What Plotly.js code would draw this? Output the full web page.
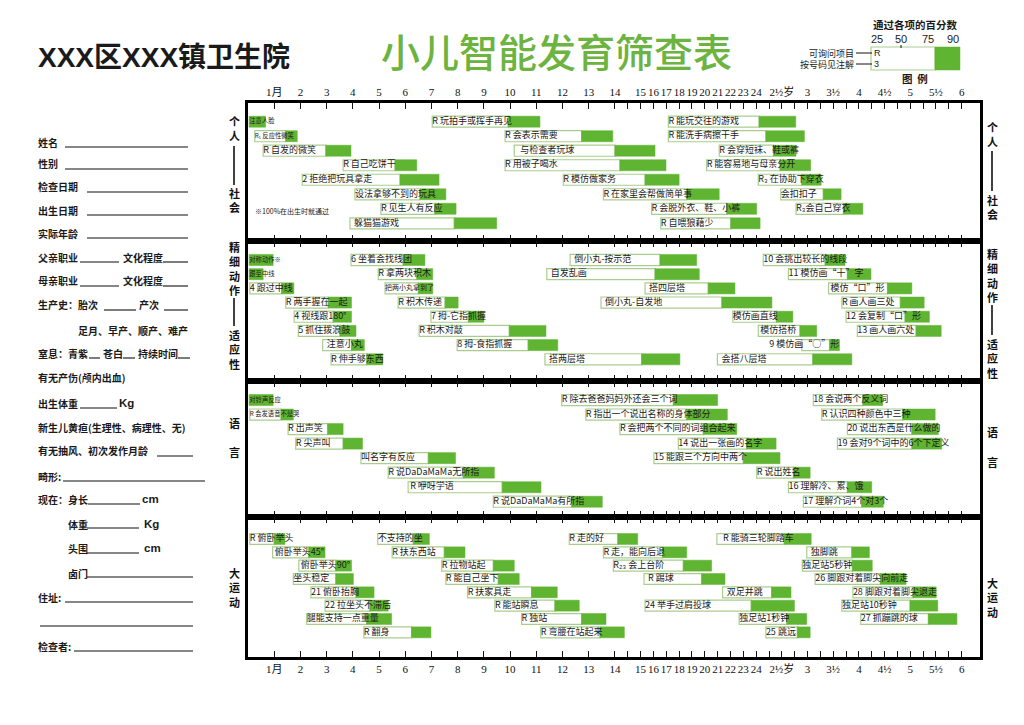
<!DOCTYPE html>
<html><head><meta charset="utf-8">
<script src="https://cdn.plot.ly/plotly-3.0.1.min.js"></script>
<style>html,body{margin:0;padding:0;background:#fff;} #chart{width:1024px;height:725px;}</style>
</head><body><div id="chart"></div>
<script>
// ---------- axis ticks (chart units) ----------
const TICK_VALS = [1,2,3,4,5,6,7,8,9,10,11,12,13,14,14.98,15.47,15.96,16.45,16.94,17.43,17.92,18.41,18.9,19.39,20.37,21.35,22.33,23.31,24.29,25.27,26.25,27.23];
const TICK_TEXT = ['1月','2','3','4','5','6','7','8','9','10','11','12','13','14','15','16','17','18','19','20','21','22','23','24','2½岁','3','3½','4','4½','5','5½','6'];
const MINOR_TICK_VALS = [14.49,19.88,20.86,21.84,22.82,23.8,24.78,25.76,26.74];

// ---------- 个人-社会 ----------
const S1_ROWS = [1,1,1,2,2,2,3,3,3,4,4,4,5,5,5,6,6,6,7,7,7,8,8];
const S1_LABELS = ['注意人脸','R 玩拍手或挥手再见','R 能玩交往的游戏',
 'R₁ 反应性微笑','R 会表示需要','R 能洗手病擦干手',
 'R 自发的微笑','\u00a0\u00a0\u00a0与检查者玩球','R 会穿短袜、鞋或裤',
 'R 自己吃饼干','R 用被子喝水','R 能容易地与母亲分开',
 '2 拒绝把玩具拿走','R 模仿做家务','R₃ 在协助下穿衣',
 '设法拿够不到的玩具','R 在家里会帮做简单事','会扣扣子',
 'R 见生人有反应','R 会脱外衣、鞋、小裤','R₃会自己穿衣',
 '\u00a0\u00a0躲猫猫游戏','R 自喂狼藉少'];
const S1_P25 = [0.05,7.03,16.04, 0.26,9.81,16.04, 0.58,10.16,17.98, 3.63,9.81,17.50, 2.07,12.03,19.47, 4.08,13.56,20.33, 5.07,15.40,20.91, 3.89,15.75];
const S1_P75 = [0.05,9.93,19.50, 1.44,12.73,19.76, 2.97,14.00,20.05, 5.61,14.19,20.30, 5.80,15.15,21.13, 6.56,16.74,21.95, 7.13,18.27,22.72, 7.87,18.42];
const S1_P90 = [0.67,11.14,20.90, 1.88,13.92,21.23, 3.93,15.53,20.91, 6.44,15.95,21.47, 7.29,16.45,21.87, 7.55,17.98,22.63, 7.94,19.41,23.46, 9.49,19.54];

// ---------- 精细动作-适应性 ----------
const S2_ROWS = [1,1,1,1,2,2,2,2,3,3,3,3,4,4,4,4,5,5,5,5,6,6,6,6,7,7,7,8,8,8];
const S2_LABELS = ['对称动作※','6 坐着会找线团','\u00a0\u00a0倒小丸-按示范','10 会挑出较长的线段',
 '跟至中线','R 拿两块积木','\u00a0\u00a0自发乱画','11 模仿画“十”字',
 '4 跟过中线','把两小丸拿到了','\u00a0\u00a0搭四层塔','\u00a0模仿“口”形',
 'R 两手握在一起','R 积木传递','\u00a0\u00a0倒小丸-自发地','R 画人画三处',
 '4 视线跟180°','7 拇-它指抓握','模仿画直线','12 会复制“口”形',
 '5 抓住拨浪鼓','R 积木对敲','\u00a0模仿搭桥','13 画人画六处',
 '\u00a0\u00a0注意小丸','8 拇-食指抓握','9 模仿画“○”形',
 'R 伸手够东西','\u00a0\u00a0搭两层塔','\u00a0\u00a0会搭八层塔'];
const S2_P25 = [0.05,3.93,12.29,19.66, 0.05,4.97,11.40,20.62, 0.07,5.23,15.15,22.15, 1.44,5.73,13.47,22.66, 1.76,6.98,18.50,22.82, 1.92,6.53,19.47,23.25, 2.85,7.98,21.13, 3.17,11.33,17.91];
const S2_P75 = [0.05,5.92,15.72,22.02, 0.05,6.44,15.53,22.87, 1.28,6.50,17.56,24.40, 3.06,7.52,18.08,24.89, 3.25,8.41,20.16,25.07, 3.51,9.97,21.06,25.49, 3.95,10.69,22.19, 4.53,15.02,21.55];
const S2_P90 = [0.96,6.75,17.12,22.78, 0.58,7.05,17.22,23.77, 1.75,7.05,18.58,25.33, 3.95,8.02,19.99,25.80, 3.95,9.00,20.79,26.00, 4.12,11.37,21.70,26.45, 4.44,11.82,22.57, 5.14,16.48,23.04];
const S2_TEXT_START = {26: 19.89}; // "9 模仿画“○”形" text begins left of its bar

// ---------- 语言 ----------
const S3_ROWS = [1,1,1,2,2,2,3,3,3,4,4,4,5,5,6,6,7,7,8,8];
const S3_LABELS = ['对铃声反应','R 除去爸爸妈妈外还会三个词','18 会说两个反义词',
 'R 会发语音不是哭','R 指出一个说出名称的身体部分','R 认识四种颜色中三种',
 'R 出声笑','R 会把两个不同的词组合起来','20 说出东西是什么做的',
 'R 尖声叫','14 说出一张画的名字','19 会对9个词中的6个下定义',
 '叫名字有反应','15 能跟三个方向中两个',
 'R 说DaDaMaMa无所指','R 说出姓名',
 '\u00a0R 咿呀学语','16 理解冷、累、饿',
 'R 说DaDaMaMa有所指','17 理解介词4个对3个'];
const S3_P25 = [0.05,11.97,21.57, 0.07,12.89,21.89, 1.53,14.19,22.87, 1.82,16.42,22.49, 4.31,15.49, 5.35,19.41, 6.11,20.62, 9.36,21.19];
const S3_P75 = [0.05,16.23,23.46, 1.26,16.74,24.98, 3.04,17.37,25.33, 3.63,19.03,25.33, 6.88,18.90, 8.21,20.81, 9.70,22.87, 12.35,23.42];
const S3_P90 = [0.96,17.92,24.22, 1.73,18.29,26.22, 3.63,18.65,26.34, 4.37,20.15,26.47, 7.92,20.30, 9.40,21.45, 11.18,23.80, 13.52,24.24];

// ---------- 大运动 ----------
const S4_ROWS = [1,1,1,1,2,2,2,2,3,3,3,3,4,4,4,4,5,5,5,5,6,6,6,6,7,7,7,7,8,8,8];
const S4_LABELS = ['R 俯卧举头','不支持的坐','R 走的好','\u00a0\u00a0\u00a0R 能骑三轮脚踏车',
 '\u00a0俯卧举头45°','R 扶东西站','R 走，能向后退','\u00a0\u00a0独脚跳',
 '\u00a0俯卧举头90°','R 拉物站起','R₂₃ 会上台阶','独足站5秒钟',
 '坐头稳定','R 能自己坐下','\u00a0\u00a0R 踢球','26 脚跟对着脚尖向前走',
 '21 俯卧抬胸','R 扶家具走','\u00a0\u00a0双足并跳','28 脚跟对着脚尖退走',
 '22 拉坐头不滞后','R 能站瞬息','24 举手过肩投球','独足站10秒钟',
 '腿能支持一点重量','R 独站','独足站1秒钟','27 抓蹦跳的球',
 'R 翻身','R 弯腰在站起来','25 跳远'];
const S4_P25 = [0.07,4.95,12.26,17.89, 0.94,5.50,13.56,21.32, 1.94,7.39,13.94,21.15, 1.73,7.55,15.11,21.64, 2.40,8.38,18.11,23.08, 2.94,9.42,15.15,22.66, 2.24,10.44,18.74,23.38, 4.42,11.17,19.76];
const S4_P75 = [1.00,6.31,14.11,20.46, 2.32,7.49,15.82,23.04, 3.35,9.36,16.61,23.06, 3.35,9.55,17.31,24.13, 4.12,10.82,19.98,25.37, 4.65,11.71,19.20,25.26, 4.53,12.73,20.56,25.96, 6.24,13.43,20.96];
const S4_P90 = [1.41,6.92,14.87,21.49, 2.94,8.28,16.74,23.71, 3.95,10.16,17.69,23.82, 4.02,10.35,18.20,25.11, 4.81,11.80,20.72,26.26, 5.35,12.64,20.85,26.32, 5.48,13.66,21.32,27.05, 6.98,14.36,21.45];

const SMALL_LABELS = ['注意人脸','R₁ 反应性微笑','对称动作※','跟至中线','对铃声反应','R 会发语音不是哭'];
const MID_LABELS = ['把两小丸拿到了'];

// ---------- styling ----------
const GREEN = '#5fb431';
const EDGE = '#aacd8f';
const CJK = 'Noto Sans CJK SC, sans-serif';
const X_RANGE = [0, 27.93];
const DOM_X = [248/1024, 980/1024];
const SECTIONS = [
  {rows:S1_ROWS, labels:S1_LABELS, p25:S1_P25, p75:S1_P75, p90:S1_P90, ts:{}, dom:[1-241/725, 1-103/725], yr:[9.22,-0.289], w:0.76},
  {rows:S2_ROWS, labels:S2_LABELS, p25:S2_P25, p75:S2_P75, p90:S2_P90, ts:S2_TEXT_START, dom:[1-381/725, 1-241/725], yr:[9.53,-0.339], w:0.78},
  {rows:S3_ROWS, labels:S3_LABELS, p25:S3_P25, p75:S3_P75, p90:S3_P90, ts:{}, dom:[1-517/725, 1-381/725], yr:[9.05,-0.308], w:0.76},
  {rows:S4_ROWS, labels:S4_LABELS, p25:S4_P25, p75:S4_P75, p90:S4_P90, ts:{}, dom:[1-657/725, 1-517/725], yr:[9.85,-0.65], w:0.82}
];

const traces = [];
const layout = {
  width:1024, height:725, margin:{l:0,r:0,t:0,b:0},
  paper_bgcolor:'#fff', plot_bgcolor:'#fff', showlegend:false, barmode:'overlay',
  font:{family:CJK, color:'#111'}
};

SECTIONS.forEach((s, k) => {
  const n = k+1;
  const xa = n===1 ? 'x' : 'x'+n, ya = n===1 ? 'y' : 'y'+n;
  traces.push({type:'bar', orientation:'h', xaxis:xa, yaxis:ya, y:s.rows, base:s.p25,
    x:s.p75.map((v,i)=>v-s.p25[i]), width:s.w,
    marker:{color:'#ffffff', line:{color:EDGE, width:1.2}}, hoverinfo:'skip'});
  traces.push({type:'bar', orientation:'h', xaxis:xa, yaxis:ya, y:s.rows, base:s.p75,
    x:s.p90.map((v,i)=>v-s.p75[i]), width:s.w,
    marker:{color:GREEN, line:{color:GREEN, width:0.5}}, hoverinfo:'skip'});
  traces.push({type:'scatter', mode:'text', xaxis:xa, yaxis:ya, y:s.rows,
    x:s.p25.map((v,i)=> (i in s.ts) ? s.ts[i] : v),
    text:s.labels, textposition:'middle right', cliponaxis:false,
    textfont:{family:CJK, color:'#1a1a1a',
      size:s.labels.map(t => SMALL_LABELS.includes(t) ? 6.3 : (MID_LABELS.includes(t) ? 7 : 9))},
    hoverinfo:'skip'});
  const xaxis = {domain:DOM_X, range:X_RANGE, anchor:ya, tickmode:'array', tickvals:TICK_VALS, ticktext:TICK_TEXT,
    ticks:'inside', ticklen:6, tickwidth:1, tickcolor:'#111', showline:true, linecolor:'#000', linewidth:3,
    minor:{tickmode:'array', tickvals:MINOR_TICK_VALS, ticks:'inside', ticklen:6, tickwidth:1, tickcolor:'#111', showgrid:false},
    mirror:'ticks', showgrid:false, zeroline:false, fixedrange:true, tickangle:0,
    showticklabels:(n===1 || n===4), side:(n===1?'top':'bottom'),
    tickfont:{family:'Liberation Serif, Noto Sans CJK SC, serif', size:11, color:'#111'}};
  if (n>1) xaxis.matches = 'x';
  layout[n===1?'xaxis':'xaxis'+n] = xaxis;
  layout[n===1?'yaxis':'yaxis'+n] = {domain:s.dom, range:s.yr, anchor:xa, showline:true, linecolor:'#000', linewidth:3,
    mirror:true, ticks:'', showticklabels:false, showgrid:false, zeroline:false, fixedrange:true};
});

// ---------- annotations & shapes (page furniture) ----------
const P = x => x/1024, Q = y => 1 - y/725;
const ann = [], shapes = [];
function txt(t, x, y, o) {
  o = o || {};
  const font = Object.assign({family:CJK, size:10, color:'#1a1a1a', weight:700}, o.font || {});
  ann.push({text:t, x:P(x), y:Q(y), xref:'paper', yref:'paper', showarrow:false,
    xanchor:o.xanchor || 'left', yanchor:'middle', font:font, borderpad:0});
}
function hl(x1, x2, y, w) {
  shapes.push({type:'line', xref:'paper', yref:'paper', x0:P(x1), x1:P(x2), y0:Q(y), y1:Q(y), line:{color:'#111', width:w||1.1}});
}
function vl(x, y1, y2, w) {
  shapes.push({type:'line', xref:'paper', yref:'paper', x0:P(x), x1:P(x), y0:Q(y1), y1:Q(y2), line:{color:'#111', width:w||1.6}});
}

// titles
txt('XXX区XXX镇卫生院', 37, 58, {font:{family:'Liberation Sans, Noto Sans CJK SC, sans-serif', size:28, color:'#1a1a1a', weight:700}});
txt('小儿智能发育筛查表', 556, 50, {xanchor:'center', font:{size:39, color:'#6cb33f', weight:500}});

// patient form
const FORM = [
  ['姓名',37,142],['性别',37,164],['检查日期',37,187],['出生日期',37,211],['实际年龄',37,233],
  ['父亲职业',37,257],['文化程度',122,257],['母亲职业',37,281],['文化程度',122,281],
  ['生产史：胎次',37,305],['产次',138,305],['足月、早产、顺产、难产',77,330],
  ['窒息：青紫',37,353],['苍白',102,353],['持续时间',137,353],
  ['有无产伤(颅内出血)',37,377],['出生体重',37,403],['新生儿黄疸(生理性、病理性、无)',37,427],
  ['有无抽风、初次发作月龄',37,451],['畸形:',37,476],['现在：身长',37,499],
  ['体重',67,524],['头围',67,548],['卤门',67,573],['住址:',37,597],['检查者:',37,646]
];
FORM.forEach(f => txt(f[0], f[1], f[2]));
txt('Kg',118,403,{font:{family:'Liberation Sans, sans-serif', size:11.5}});
txt('cm',141,499,{font:{family:'Liberation Sans, sans-serif', size:11.5}});
txt('Kg',143,524,{font:{family:'Liberation Sans, sans-serif', size:11.5}});
txt('cm',143,548,{font:{family:'Liberation Sans, sans-serif', size:11.5}});
const FORM_LINES = [
  [65,188,147],[65,188,169],[87,188,192],[87,188,215],[87,188,238],
  [80,119,262],[163,188,262],[80,119,286],[163,188,286],
  [104,136,310],[164,188,310],[89,100,358],[123,135,358],[178,190,358],
  [80,117,408],[157,193,456],[63,205,481],[88,140,504],[87,139,528],[87,139,553],
  [87,193,577],[65,193,602],[40,193,626],[74,193,651]
];
FORM_LINES.forEach(l => hl(l[0], l[1], l[2]));

// section captions (left & right), stacked vertically
function stack(chars, yc, x) {
  txt(chars.join('<br>'), x, yc, {xanchor:'center', font:{size:11, color:'#111', weight:700}});
}
stack(['个','人'], 128, 234); stack(['社','会'], 200, 234); vl(234,146,185);
stack(['精','细','动','作'], 268, 234); stack(['适','应','性'], 349, 234); vl(234,298,326);
stack(['语'], 423, 234); stack(['言'], 452, 234);
stack(['大','运','动'], 587, 234);
stack(['个','人'], 134, 992); stack(['社','会'], 207, 992); vl(992,151,191);
stack(['精','细','动','作'], 275, 992); stack(['适','应','性'], 358, 992); vl(992,305,335);
stack(['语'], 432, 992); stack(['言'], 462, 992);
stack(['大','运','动'], 597, 992);

txt('※100%在出生时就通过', 254, 211, {font:{size:7, weight:400}});

// legend (top right)
txt('通过各项的百分数', 915, 24, {xanchor:'center', font:{size:10.5, weight:700}});
txt('25', 877, 39, {xanchor:'center', font:{family:'Liberation Sans, sans-serif', size:11, weight:400}});
txt('50', 901, 39, {xanchor:'center', font:{family:'Liberation Sans, sans-serif', size:11, weight:400}});
txt('75', 928, 39, {xanchor:'center', font:{family:'Liberation Sans, sans-serif', size:11, weight:400}});
txt('90', 953, 39, {xanchor:'center', font:{family:'Liberation Sans, sans-serif', size:11, weight:400}});
shapes.push({type:'rect', xref:'paper', yref:'paper', x0:P(871), x1:P(935), y0:Q(70), y1:Q(47), fillcolor:'#fff', line:{color:EDGE, width:1.2}});
shapes.push({type:'rect', xref:'paper', yref:'paper', x0:P(935), x1:P(960), y0:Q(70), y1:Q(47), fillcolor:GREEN, line:{color:GREEN, width:0.5}});
vl(901, 45, 48, 1);
txt('可询问项目', 855, 53, {xanchor:'right', font:{size:9, weight:400}});
txt('按号码见注解', 855, 64, {xanchor:'right', font:{size:9, weight:400}});
hl(856, 872, 53, 1); hl(856, 872, 64, 1);
txt('R', 873, 53, {font:{family:'Liberation Sans, sans-serif', size:9, weight:400}});
txt('3', 873, 64, {font:{family:'Liberation Sans, sans-serif', size:9, weight:400}});
txt('图\u00a0\u00a0例', 915, 79, {xanchor:'center', font:{size:10.5, weight:700}});

layout.annotations = ann;
layout.shapes = shapes;

Plotly.newPlot('chart', traces, layout, {staticPlot:true, displayModeBar:false});
</script>
</body></html>
